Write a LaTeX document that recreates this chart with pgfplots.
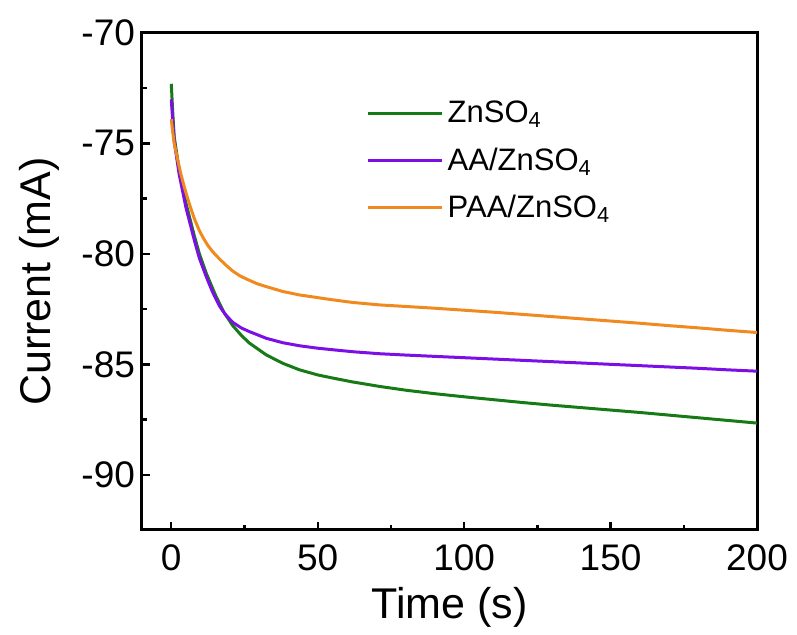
\documentclass[border=0pt]{standalone}
\usepackage{fontspec}
\setmainfont{Liberation Sans}
\usepackage{pgfplots}
\pgfplotsset{compat=1.18}
\definecolor{cgreen}{RGB}{22,122,22}
\definecolor{cpurple}{RGB}{123,15,230}
\definecolor{corange}{RGB}{240,138,30}
\begin{document}
\begin{tikzpicture}
\begin{axis}[
  name=ax,
  scale only axis,
  width=307.5pt, height=248.5pt,
  xmin=-10, xmax=200, ymin=-92.5, ymax=-70,
  xtick={0,50,100,150,200}, ytick={-90,-85,-80,-75,-70},
  minor x tick num=1, minor y tick num=1,
  tick align=inside,
  xtick pos=bottom, ytick pos=left,
  major tick length=4pt, minor tick length=2.5pt,
  every tick/.style={black, line width=1.2pt},
  axis line style={line width=1.5pt},
  /pgf/number format/assume math mode=true,
  tick label style={font=\fontsize{18.5}{21}\selectfont},
  xticklabel style={yshift=-4pt},
  xlabel={Time (s)}, ylabel={Current (mA)},
  label style={font=\fontsize{21.5}{24}\selectfont},
  xlabel style={yshift=-1pt},
  ylabel style={yshift=4pt},
  legend style={draw=none, fill=none, at={(0.355,0.88)}, anchor=north west,
    font=\fontsize{15.5}{18}\selectfont, row sep=7pt},
  legend cell align=left,
  legend image code/.code={\draw[#1, line width=1.5pt] (0pt,0pt) -- (37pt,0pt);},
  every axis plot/.append style={line width=1.5pt},
]
\addplot[cgreen] coordinates {
(0,-72.3) (0.5,-73.6) (1.0,-74.7) (2.7,-76.2) (5.0,-77.7) (7.9,-79.2) (9.6,-80.0) (12,-80.9) (15.3,-81.93) (18,-82.65) (21,-83.25) (24,-83.7) (26.7,-84.04) (32.4,-84.57) (38,-84.95) (43.8,-85.25) (50,-85.48) (55.1,-85.62) (62,-85.8) (71.1,-86.0) (80,-86.17) (90,-86.33) (100,-86.47) (110,-86.6) (120,-86.73) (130,-86.85) (140,-86.96) (150,-87.07) (160,-87.18) (170,-87.3) (180,-87.42) (190,-87.54) (200,-87.66)
};
\addlegendentry{ZnSO\textsubscript{4}}
\addplot[cpurple] coordinates {
(0,-73.0) (0.5,-74.0) (1.0,-74.9) (2.7,-76.4) (5.0,-77.9) (7.9,-79.4) (9.6,-80.2) (12,-81.05) (14,-81.7) (16.4,-82.35) (18.5,-82.75) (21,-83.1) (24,-83.36) (26.7,-83.52) (32.4,-83.82) (38,-84.02) (43.8,-84.16) (50,-84.27) (55.1,-84.34) (62,-84.43) (71.1,-84.52) (80,-84.58) (90,-84.64) (100,-84.7) (110,-84.76) (120,-84.82) (130,-84.88) (140,-84.94) (150,-85.0) (160,-85.06) (170,-85.12) (180,-85.18) (190,-85.25) (200,-85.31)
};
\addlegendentry{AA/ZnSO\textsubscript{4}}
\addplot[corange] coordinates {
(0,-73.9) (0.5,-74.5) (1.0,-75.0) (2.2,-75.75) (3.3,-76.4) (4.4,-76.95) (5.5,-77.45) (6.7,-77.95) (8,-78.45) (9.6,-78.95) (11,-79.3) (12.5,-79.62) (14,-79.88) (15.3,-80.07) (17,-80.3) (19,-80.55) (21,-80.78) (23.5,-81.0) (26.7,-81.2) (29.5,-81.36) (32.4,-81.48) (38,-81.7) (43.8,-81.86) (50,-81.98) (55.1,-82.08) (62,-82.2) (71.1,-82.31) (80,-82.38) (90,-82.46) (100,-82.55) (110,-82.64) (120,-82.74) (130,-82.84) (140,-82.94) (150,-83.04) (160,-83.14) (170,-83.25) (180,-83.35) (190,-83.46) (200,-83.56)
};
\addlegendentry{PAA/ZnSO\textsubscript{4}}
\end{axis}
\path (ax.south west) ++(-71pt,-52.5pt) coordinate (bl);
\path (ax.north east) ++(20pt,16.5pt) coordinate (tr);
\path (bl) rectangle (tr);
\end{tikzpicture}
\end{document}
